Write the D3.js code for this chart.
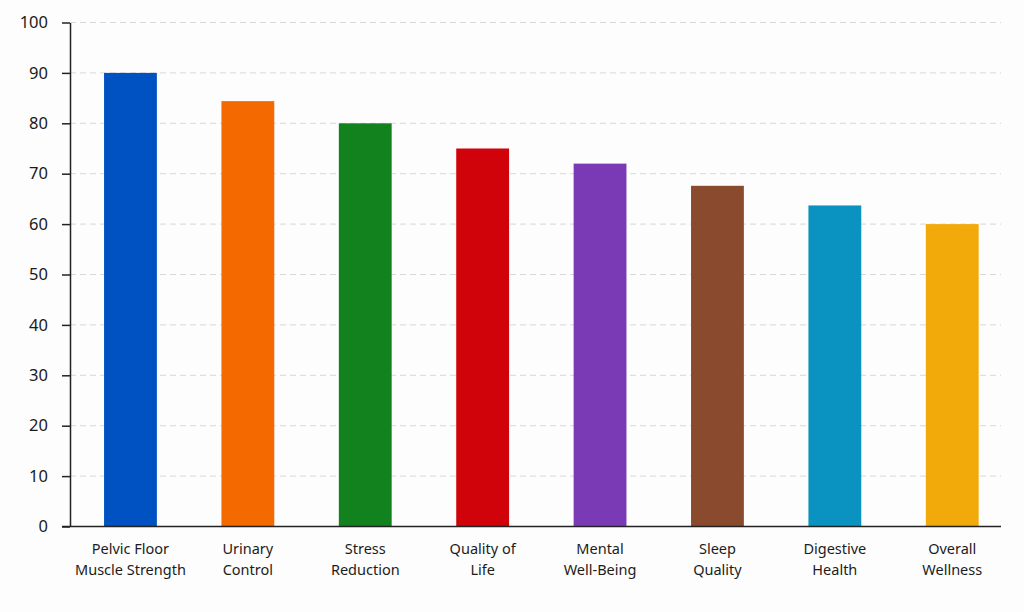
<!DOCTYPE html>
<html><head><meta charset="utf-8">
<script src="https://cdn.jsdelivr.net/npm/d3@7"></script>
<style>body{margin:0;background:#fdfdfd}svg{display:block}</style>
</head><body>
<svg id="c" width="1024" height="612"></svg>
<script>
const categories = [["Pelvic Floor","Muscle Strength"],["Urinary","Control"],["Stress","Reduction"],["Quality of","Life"],["Mental","Well-Being"],["Sleep","Quality"],["Digestive","Health"],["Overall","Wellness"]];
const values = [90, 84.4, 80, 75, 72, 67.6, 63.7, 60];
const colors = ["#0052c2","#f46a00","#12821e","#d0020a","#7b3ab5","#8a4a2e","#0a93c0","#f2a90a"];
const yTicks = [0,10,20,30,40,50,60,70,80,90,100];

const svg = d3.select("#c");
const font = "'Noto Sans', sans-serif";
const x = d3.scaleBand().domain(d3.range(categories.length)).range([70, 1012.7]).paddingInner(0.55).paddingOuter(0.29);
const y = d3.scaleLinear().domain([0,100]).range([526.5, 22.5]);

// gridlines
svg.append("g").selectAll("line").data(yTicks.filter(d=>d>0)).join("line")
  .attr("x1",70).attr("x2",1001).attr("y1",d=>y(d)).attr("y2",d=>y(d))
  .attr("stroke","#d8d8d8").attr("stroke-width",1).attr("stroke-dasharray","6,4");

// bars
svg.append("g").selectAll("rect").data(values).join("rect")
  .attr("x",(d,i)=>x(i)).attr("width",x.bandwidth())
  .attr("y",d=>y(d)).attr("height",d=>y(0)-y(d))
  .attr("fill",(d,i)=>colors[i]);

// y axis
const ya = svg.append("g").attr("transform","translate(70,0)")
  .call(d3.axisLeft(y).tickValues(yTicks).tickSize(8).tickPadding(14).tickSizeOuter(0));
ya.select(".domain").attr("stroke","#222").attr("stroke-width",1.5);
ya.selectAll(".tick line").attr("stroke","#222").attr("stroke-width",1.5);
ya.selectAll(".tick text").attr("font-family",font).attr("font-size",16.5).attr("fill","#1a1a1a");

// x axis line
svg.append("line").attr("x1",62).attr("x2",1001).attr("y1",y(0)).attr("y2",y(0))
  .attr("stroke","#222").attr("stroke-width",1.5);

// x labels
const lab = svg.append("g").selectAll("text").data(categories).join("text")
  .attr("x",(d,i)=>x(i)+x.bandwidth()/2).attr("y",554)
  .attr("text-anchor","middle").attr("font-family",font).attr("font-size",14.5).attr("fill","#1c1c1c");
lab.selectAll("tspan").data(d=>d).join("tspan")
  .attr("x",function(){return d3.select(this.parentNode).attr("x");})
  .attr("dy",(d,i)=>i?21:0).text(d=>d);
</script>
</body></html>
